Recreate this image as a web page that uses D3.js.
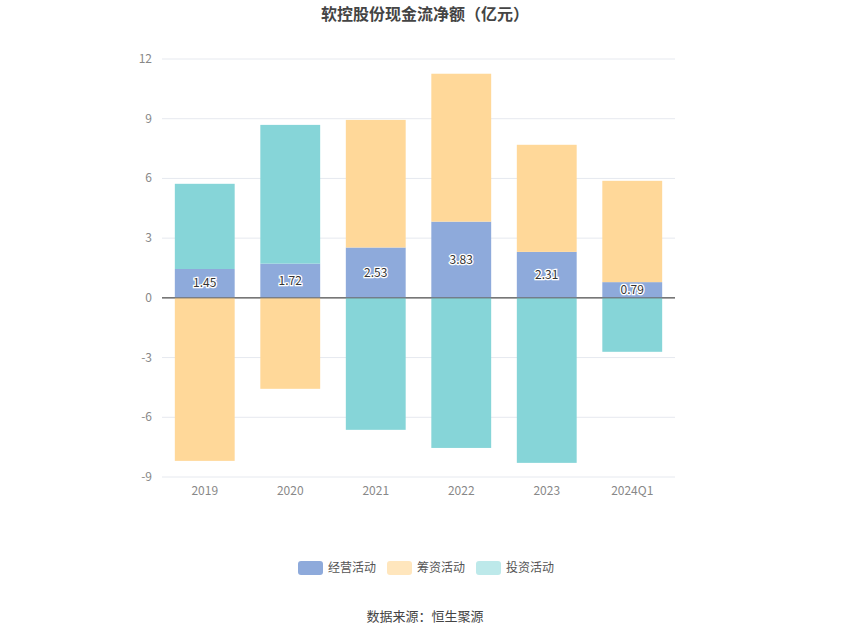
<!DOCTYPE html><html><head><meta charset="utf-8"><script src="https://cdn.jsdelivr.net/npm/d3@7"></script>
<style>body{margin:0;background:#fff;font-family:"Noto Sans CJK SC","Noto Sans",sans-serif}</style></head><body><svg id="c" width="850" height="637"></svg>
<script>
const categories=["2019","2020","2021","2022","2023","2024Q1"];
const operating=[1.45,1.72,2.53,3.83,2.31,0.79];
const financing=[-8.19,-4.57,6.41,7.43,5.38,5.09];
const investing=[4.28,6.97,-6.63,-7.54,-8.29,-2.71];
const yTicks=[-9,-6,-3,0,3,6,9,12];
const seriesNames=["经营活动","筹资活动","投资活动"];
const colors=["#8eaadb","#ffd899","#86d5d8"];
const legendColors=["#8eaadb","#ffe6bd","#bde9ea"];
const svg=d3.select("#c");
const x=d3.scaleBand().domain(categories).range([162,675]).paddingInner(0.3).paddingOuter(0.15);
const y=d3.scaleLinear().domain([-9,12]).range([477,59]);
svg.append("text").attr("x",425).attr("y",20).attr("text-anchor","middle").attr("font-size",16).attr("font-weight","bold").attr("fill","#444").text("软控股份现金流净额（亿元）");
yTicks.forEach(t=>{svg.append("line").attr("x1",162).attr("x2",675).attr("y1",y(t)).attr("y2",y(t)).attr("stroke",t===0?"#666":"#e6e9ef");
svg.append("text").attr("x",152).attr("y",y(t)+4).attr("text-anchor","end").attr("font-size",12).attr("fill","#888").text(t);});
categories.forEach((c,i)=>{
 svg.append("text").attr("x",x(c)+x.bandwidth()/2).attr("y",495).attr("text-anchor","middle").attr("font-size",12).attr("fill","#888").text(c);
 let pos=0,neg=0;
 [operating[i],financing[i],investing[i]].forEach((v,k)=>{
  let y0,y1; if(v>=0){y0=pos;y1=pos+v;pos=y1;}else{y0=neg;y1=neg+v;neg=y1;}
  svg.append("rect").attr("x",x(c)).attr("width",x.bandwidth()).attr("y",y(Math.max(y0,y1))).attr("height",Math.abs(y(y0)-y(y1))).attr("fill",colors[k]);
 });
 svg.append("text").attr("x",x(c)+x.bandwidth()/2).attr("y",y(operating[i]/2)+4).attr("text-anchor","middle").attr("font-size",12).attr("fill","#333").attr("stroke","#fff").attr("stroke-width",2.5).attr("paint-order","stroke").text(operating[i].toFixed(2));
});
svg.append("line").attr("x1",162).attr("x2",675).attr("y1",y(0)).attr("y2",y(0)).attr("stroke","#666");
const lx=[298,387,476];
seriesNames.forEach((n,k)=>{svg.append("rect").attr("x",lx[k]).attr("y",561).attr("width",25).attr("height",14).attr("rx",3).attr("fill",legendColors[k]);
svg.append("text").attr("x",lx[k]+30).attr("y",572).attr("font-size",12).attr("fill","#555").text(n);});
svg.append("text").attr("x",425).attr("y",621).attr("text-anchor","middle").attr("font-size",13).attr("fill","#444").text("数据来源：恒生聚源");
</script></body></html>
